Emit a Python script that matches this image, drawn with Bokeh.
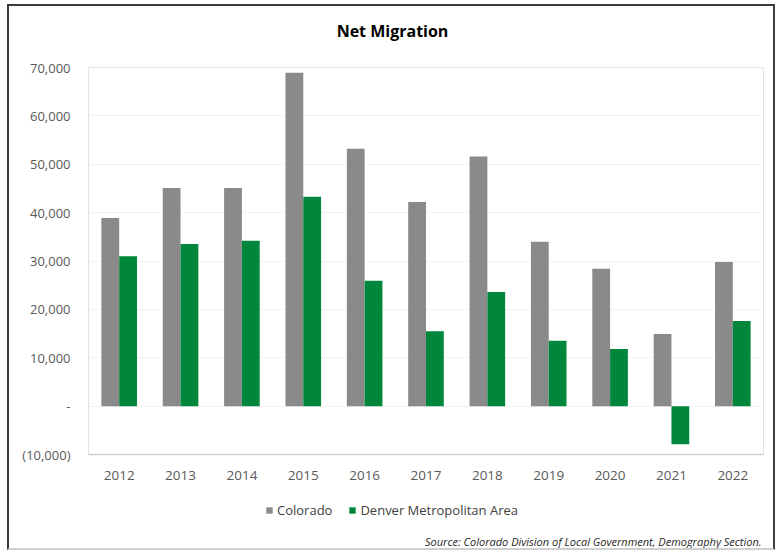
from bokeh.plotting import figure
from bokeh.layouts import column
from bokeh.models import FactorRange, Range1d, FixedTicker, Legend, LegendItem, Label, ColumnDataSource
from bokeh.transform import dodge
from bokeh.embed import file_html
from bokeh.resources import INLINE

# ---- data ----
years = ["2012", "2013", "2014", "2015", "2016", "2017", "2018", "2019", "2020", "2021", "2022"]
colorado = [38900, 45100, 45100, 68900, 53200, 42200, 51600, 34000, 28400, 14900, 29800]
denver = [31000, 33500, 34200, 43300, 25900, 15500, 23600, 13500, 11800, -7900, 17600]
ytick_values = [-10000, 0, 10000, 20000, 30000, 40000, 50000, 60000, 70000]
ytick_labels = ["(10,000)", "-", "10,000", "20,000", "30,000", "40,000", "50,000", "60,000", "70,000"]
series_names = ["Colorado", "Denver Metropolitan Area"]
title_text = "Net Migration"
source_text = "Source: Colorado Division of Local Government, Demography Section."

FONT = "Open Sans"
GRAY = "#8a8a8a"
GREEN = "#00873c"
W, H_HEAD, H_MAIN, H_FOOT = 778, 45, 445, 62
LEFT, RIGHT = 88, 15


def strip(width, height):
    """A figure without axes whose frame is aligned with the chart frame (1 unit = 1 px)."""
    s = figure(width=width, height=height, x_range=Range1d(LEFT, W - RIGHT), y_range=Range1d(0, height),
               output_backend="svg", toolbar_location=None,
               min_border_left=LEFT, min_border_right=RIGHT, min_border_top=0, min_border_bottom=0,
               x_axis_location=None, y_axis_location=None)
    s.title.visible = False
    s.outline_line_color = None
    s.grid.visible = False
    return s


src = ColumnDataSource(dict(year=years, colorado=colorado, denver=denver))

# ---- header: title ----
h = strip(W, H_HEAD)
h.add_layout(Label(x=392, y=15, text=title_text, text_align="center", text_baseline="middle",
                   text_font=FONT, text_font_size="16px", text_font_style="bold", text_color="#000000"))

# ---- main chart ----
p = figure(width=W, height=H_MAIN, x_range=FactorRange(*years), y_range=Range1d(-10000, 70000),
           output_backend="svg", toolbar_location=None,
           min_border_left=LEFT, min_border_right=RIGHT, min_border_top=22, min_border_bottom=36)
p.title.visible = False

r1 = p.vbar(x=dodge("year", -0.145, range=p.x_range), top="colorado", width=0.29, source=src,
            fill_color=GRAY, line_color=None)
r2 = p.vbar(x=dodge("year", 0.145, range=p.x_range), top="denver", width=0.29, source=src,
            fill_color=GREEN, line_color=None)

p.outline_line_color = "#e2e2e2"
p.xgrid.grid_line_color = None
p.ygrid.grid_line_color = "#f2f2f2"
p.ygrid.ticker = FixedTicker(ticks=ytick_values)

ya = p.yaxis[0]
ya.ticker = FixedTicker(ticks=ytick_values)
ya.major_label_overrides = {v: l for v, l in zip(ytick_values, ytick_labels)}
ya.axis_line_color = None
ya.major_tick_line_color = None
ya.minor_tick_line_color = None
ya.major_tick_out = 0
ya.major_label_standoff = 18
ya.major_label_text_font = FONT
ya.major_label_text_font_size = "13px"
ya.major_label_text_color = "#595959"

xa = p.xaxis[0]
xa.axis_line_color = "#d0d0d0"
xa.axis_line_width = 1.5
xa.major_tick_line_color = None
xa.major_tick_out = 0
xa.major_label_standoff = 16
xa.major_label_text_font = FONT
xa.major_label_text_font_size = "13.5px"
xa.major_label_text_color = "#595959"

# ---- footer: legend and source note ----
f = strip(W, H_FOOT)
# legend swatch renderers, kept outside the visible range
g1 = f.vbar(x=[-1000], top=[-1000], width=1, fill_color=GRAY, line_color=None)
g2 = f.vbar(x=[-1000], top=[-1000], width=1, fill_color=GREEN, line_color=None)

legend = Legend(items=[LegendItem(label=series_names[0], renderers=[g1]),
                       LegendItem(label=series_names[1], renderers=[g2])],
                location=(265 - LEFT, 33), orientation="horizontal",
                border_line_alpha=0, background_fill_alpha=0,
                padding=0, margin=0, spacing=16, label_standoff=4,
                glyph_width=8, glyph_height=8,
                label_text_font=FONT, label_text_font_size="13px", label_text_color="#404040")
f.add_layout(legend)
f.add_layout(Label(x=761, y=11, text=source_text, text_align="right", text_baseline="middle",
                   text_font=FONT, text_font_size="11px", text_font_style="italic",
                   text_color="#262626"))

layout = column(h, p, f, spacing=0)
layout.stylesheets = [":host::after { content: ''; position: absolute; "
                      "left: 7px; top: 4px; right: 3px; bottom: 2px; border: 2px solid #3c3c3c; "
                      "border-bottom-color: #cfcfcf; pointer-events: none; z-index: 100; }"]

open("out.html", "w").write(file_html(layout, INLINE))
